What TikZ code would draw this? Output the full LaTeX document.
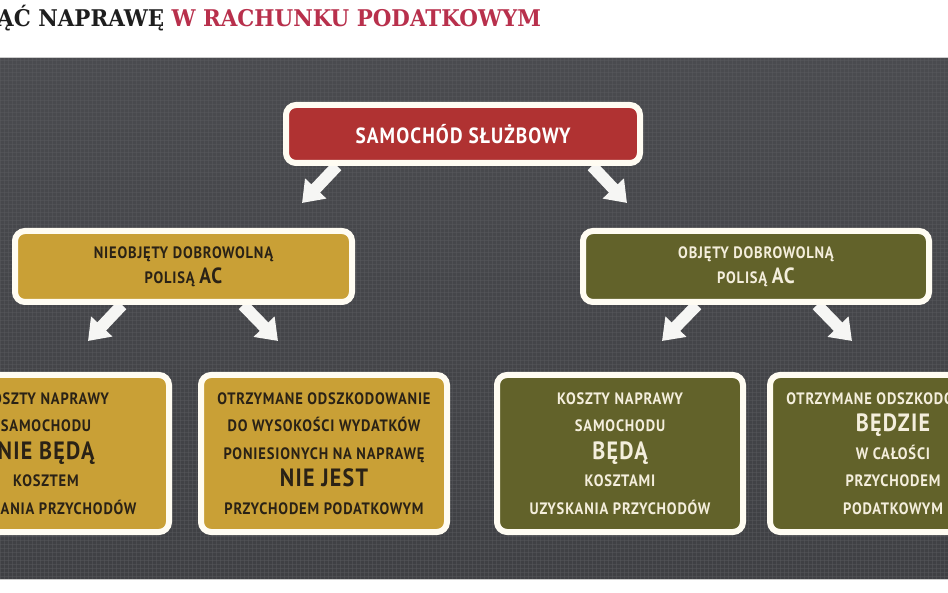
\documentclass[tikz,border=0pt]{standalone}
\usepackage{fontspec}
\setmainfont{PT Sans}
\newfontfamily\boxfont[FakeStretch=0.88,LetterSpace=5]{PT Sans}
\newfontfamily\titlefont[FakeStretch=0.93]{DejaVu Serif}
\usetikzlibrary{arrows.meta,shadows}
\definecolor{panel}{HTML}{4A4B4F}
\definecolor{panelbot}{HTML}{3F4044}
\definecolor{gridc}{HTML}{5A5B5F}
\definecolor{redbox}{HTML}{B03232}
\definecolor{mustard}{HTML}{C9A036}
\definecolor{olive}{HTML}{62622A}
\definecolor{crimson}{HTML}{B8304C}
\definecolor{titleblack}{HTML}{1E1E1E}
\definecolor{darktxt}{HTML}{2A2216}
\definecolor{lighttxt}{HTML}{F4EEDC}
\definecolor{rim}{HTML}{FFFCF2}
\definecolor{arrowc}{HTML}{F6F6F4}
\pgfdeclarelayer{bg}
\pgfdeclarelayer{arr}
\pgfsetlayers{bg,arr,main}
\tikzset{
  box/.style={draw=rim, line width=6pt, rounded corners=10pt, inner sep=0pt, align=center,
    drop shadow={opacity=0.35, shadow xshift=1pt, shadow yshift=-2pt}},
  topbox/.style={box, fill=redbox, text=white, minimum width=354pt, minimum height=58pt,
    font=\boxfont\bfseries\fontsize{22}{22}\selectfont},
  midbox/.style={box, minimum height=71pt, font=\boxfont\bfseries\fontsize{16.5}{25}\selectfont},
  lowbox/.style={box, minimum width=246pt, minimum height=157pt, font=\boxfont\bfseries\fontsize{16.5}{27.5}\selectfont},
  warm/.style={fill=mustard, text=darktxt},
  cool/.style={fill=olive, text=lighttxt},
  blockarrow/.style={draw=arrowc, line width=12pt, -{Triangle[width=28pt,length=20pt]}},
  gridline/.style={draw=gridc, line width=0.5pt, opacity=0.45}
}
\newcommand{\bigline}[1]{{\fontsize{25}{27.5}\selectfont #1}}
\newcommand{\bigac}[1]{{\fontsize{22}{25}\selectfont #1}}
\begin{document}
\begin{tikzpicture}[x=1pt,y=-1pt]
\useasboundingbox (0,0) rectangle (948,593);
\begin{pgfonlayer}{bg}
  \fill[white] (0,0) rectangle (948,593);
  \shade[top color=panel, bottom color=panelbot] (0,58) rectangle (948,579);
  \foreach \x in {0,4,...,948} \draw[gridline] (\x,58) -- (\x,579);
  \foreach \y in {60,64,...,578} \draw[gridline] (0,\y) -- (948,\y);
  \draw[gray!40, line width=1pt] (0,57.5) -- (948,57.5);
  \draw[gray!40, line width=1pt] (0,579.5) -- (948,579.5);
\end{pgfonlayer}

\node[anchor=base west, inner sep=0pt, text=titleblack,
  font=\titlefont\bfseries\fontsize{23}{23}\selectfont] (title) at (-3,27)
  {ĄĆ NAPRAWĘ \textcolor{crimson}{W RACHUNKU PODATKOWYM}};

\node[topbox] (top) at (463,134) {SAMOCHÓD SŁUŻBOWY};

\node[midbox, warm, minimum width=337pt] (lmid) at (183.5,266.5)
  {NIEOBJĘTY DOBROWOLNĄ\\POLISĄ \bigac{AC}};
\node[midbox, cool, minimum width=346pt] (rmid) at (756,266.5)
  {OBJĘTY DOBROWOLNĄ\\POLISĄ \bigac{AC}};

\node[lowbox, warm] (b1) at (46,453.5)
  {KOSZTY NAPRAWY\\SAMOCHODU\\\bigline{NIE BĘDĄ}\\KOSZTEM\\UZYSKANIA PRZYCHODÓW};
\node[lowbox, warm] (b2) at (324,453.5)
  {OTRZYMANE ODSZKODOWANIE\\DO WYSOKOŚCI WYDATKÓW\\PONIESIONYCH NA NAPRAWĘ\\\bigline{NIE JEST}\\PRZYCHODEM PODATKOWYM};
\node[lowbox, cool] (b3) at (620,453.5)
  {KOSZTY NAPRAWY\\SAMOCHODU\\\bigline{BĘDĄ}\\KOSZTAMI\\UZYSKANIA PRZYCHODÓW};
\node[lowbox, cool] (b4) at (893,453.5)
  {OTRZYMANE ODSZKODOWANIE\\\bigline{BĘDZIE}\\W CAŁOŚCI\\PRZYCHODEM\\PODATKOWYM};

\coordinate (tipA) at (302,203);
\coordinate (tipB) at (627,203);
\coordinate (tipC) at (88,341);
\coordinate (tipD) at (278,341);
\coordinate (tipE) at (662,341);
\coordinate (tipF) at (852,341);

\begin{pgfonlayer}{arr}
  \draw[blockarrow] ([xshift=-126pt]top.south) -- (tipA);
  \draw[blockarrow] ([xshift=129pt]top.south) -- (tipB);
  \draw[blockarrow] ([xshift=-61.5pt]lmid.south) -- (tipC);
  \draw[blockarrow] ([xshift=59.5pt]lmid.south) -- (tipD);
  \draw[blockarrow] ([xshift=-59pt]rmid.south) -- (tipE);
  \draw[blockarrow] ([xshift=61pt]rmid.south) -- (tipF);
\end{pgfonlayer}
\end{tikzpicture}
\end{document}
